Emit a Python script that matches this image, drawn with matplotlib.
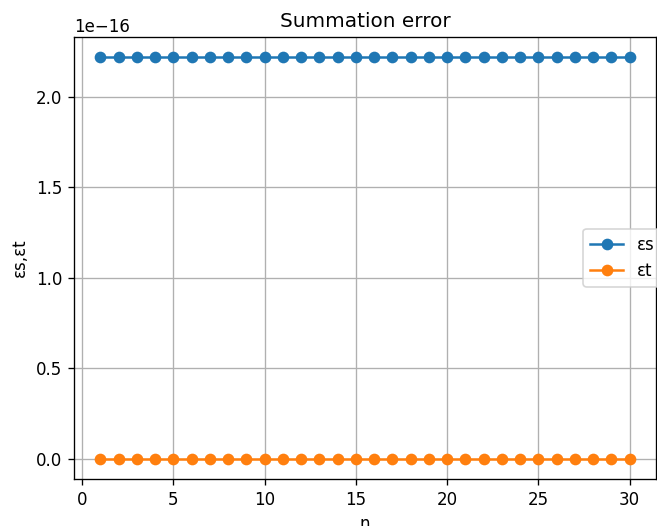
import matplotlib.pyplot as plt

# Bledy sumowania dla kolejnych n
n = list(range(1, 31))
eps_s = [2.220446049250313e-16, 2.220446049250313e-16, 2.220446049250313e-16,
         2.220446049250313e-16, 2.220446049250313e-16, 2.220446049250313e-16,
         2.220446049250313e-16, 2.220446049250313e-16, 2.220446049250313e-16,
         2.220446049250313e-16, 2.220446049250313e-16, 2.220446049250313e-16,
         2.220446049250313e-16, 2.220446049250313e-16, 2.220446049250313e-16,
         2.220446049250313e-16, 2.220446049250313e-16, 2.220446049250313e-16,
         2.220446049250313e-16, 2.220446049250313e-16, 2.220446049250313e-16,
         2.220446049250313e-16, 2.220446049250313e-16, 2.220446049250313e-16,
         2.220446049250313e-16, 2.220446049250313e-16, 2.220446049250313e-16,
         2.220446049250313e-16, 2.220446049250313e-16, 2.220446049250313e-16]
eps_t = [0.0, 0.0, 0.0, 0.0, 0.0, 0.0, 0.0, 0.0, 0.0, 0.0,
         0.0, 0.0, 0.0, 0.0, 0.0, 0.0, 0.0, 0.0, 0.0, 0.0,
         0.0, 0.0, 0.0, 0.0, 0.0, 0.0, 0.0, 0.0, 0.0, 0.0]

fig, ax = plt.subplots(figsize=(657 / 120, 526 / 120), dpi=120)
fig.subplots_adjust(left=0.1126, right=0.9985, top=0.9297, bottom=0.0894)

ax.plot(n, eps_s, 'o-', label='εs')
ax.plot(n, eps_t, 'o-', label='εt')

ax.set_title('Summation error')
ax.set_xlabel('n')
ax.set_ylabel('εs,εt')
ax.grid(True)
ax.legend(loc='center left', bbox_to_anchor=(0.875, 0.5), borderaxespad=0)

plt.savefig('out.png', dpi=120)
